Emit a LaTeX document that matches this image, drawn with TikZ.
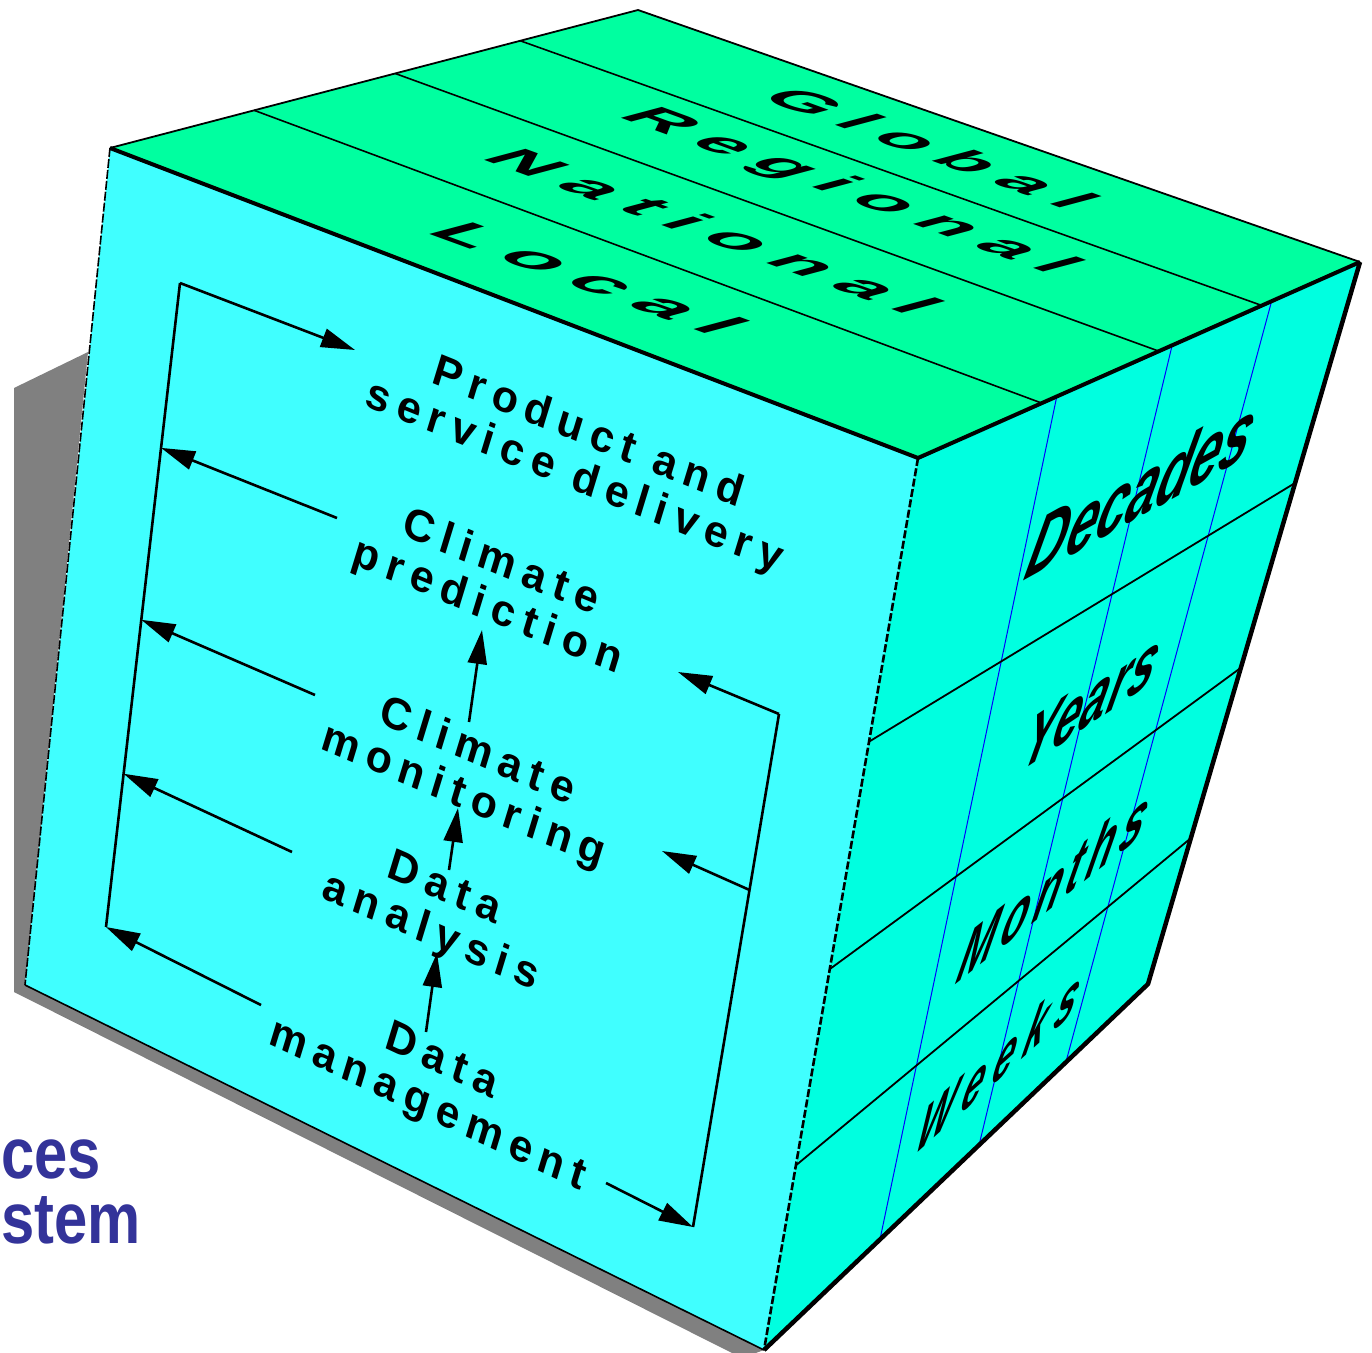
\documentclass[tikz,border=0pt]{standalone}
\usepackage{fontspec}
\setmainfont{Liberation Sans}
\newfontfamily\ffront{Liberation Sans}[LetterSpace=19]
\newfontfamily\ftop{Liberation Sans}[LetterSpace=25]
\newfontfamily\fsA{Liberation Sans}[LetterSpace=0]
\newfontfamily\fsB{Liberation Sans}[LetterSpace=2]
\newfontfamily\fsC{Liberation Sans}[LetterSpace=14]
\newfontfamily\fsD{Liberation Sans}[LetterSpace=24]
\usetikzlibrary{arrows.meta,calc}
\definecolor{topc}{RGB}{0,255,160}
\definecolor{frontc}{RGB}{64,255,255}
\definecolor{rightc}{RGB}{0,255,224}
\definecolor{shadowc}{RGB}{128,128,128}
\definecolor{titlec}{RGB}{51,51,153}
\tikzset{
  frontlbl/.style={font=\ffront\bfseries\fontsize{44}{46}\selectfont, align=center, inner sep=0pt, transform shape},
  toplbl/.style={font=\ftop\bfseries\fontsize{#1}{#1}\selectfont, inner sep=0pt, transform shape},
  sidelbl/.style={font=\bfseries\itshape\fontsize{#1}{#1}\selectfont, inner sep=0pt, transform shape},
  titlelbl/.style={anchor=base west, font=\bfseries\fontsize{72}{72}\selectfont, text=titlec, inner sep=0pt, xscale=0.83, transform shape},
  arr/.style={line width=2.6pt, -{Triangle[length=34pt,width=19pt]}},
  loopln/.style={line width=2.6pt},
  bandln/.style={line width=1.6pt},
  blueln/.style={line width=1pt, blue},
  divln/.style={line width=1.8pt},
}
\begin{document}
\begin{tikzpicture}[x=1pt,y=-1pt]
\useasboundingbox (0,0) rectangle (1372,1352);
\clip (0,0) rectangle (1372,1352);
% cube corners
\coordinate (A) at (110,148);
\coordinate (B) at (638,10);
\coordinate (C) at (1360,262);
\coordinate (D) at (918,458);
\coordinate (E) at (764,1350);
\coordinate (F) at (25,985);
\coordinate (G) at (1148,984);
% shadow
\coordinate (S1) at (88,352);
\coordinate (S2) at (14,388);
\coordinate (S3) at (14,992);
\coordinate (S4) at (742,1358);
\fill[shadowc] (S1)--(S2)--(S3)--(S4)--(E)--(F)--cycle;
% faces
\fill[topc] (A)--(B)--(C)--(D)--cycle;
\fill[frontc] (A)--(D)--(E)--(F)--cycle;
\fill[rightc] (D)--(C)--(G)--(E)--cycle;
% top bands
\draw[bandln] ($(A)!0.273!(B)$) -- ($(D)!0.28!(C)$);
\draw[bandln] ($(A)!0.54!(B)$) -- ($(D)!0.545!(C)$);
\draw[bandln] ($(A)!0.777!(B)$) -- ($(D)!0.778!(C)$);
% right face grid
\draw[blueln] ($(D)!0.314!(C)$) -- ($(E)!0.302!(G)$);
\draw[blueln] ($(D)!0.575!(C)$) -- ($(E)!0.56!(G)$);
\draw[blueln] ($(D)!0.80!(C)$) -- ($(E)!0.786!(G)$);
\draw[divln] ($(D)!0.318!(E)$) -- ($(C)!0.306!(G)$);
\draw[divln] ($(D)!0.573!(E)$) -- ($(C)!0.562!(G)$);
\draw[divln] ($(D)!0.793!(E)$) -- ($(C)!0.798!(G)$);
% edges
\draw[line width=1.8pt] (A)--(B)--(C);
\draw[line width=4pt, line join=round] (A)--(D)--(C);
\draw[line width=4.5pt, line join=round] (C)--(G)--(E);
\draw[line width=1.6pt] (F)--(E);
\draw[line width=1.6pt, dash pattern=on 9pt off 2pt] (A)--(F);
\draw[line width=2.6pt, dash pattern=on 8pt off 2.5pt] (D)--(E);
% top face labels
\begin{scope}[shift={(932,148)}]
\node[toplbl=75, cm={0.940,-0.342,0.773,0.206,(0,0)}] (global) at (0,0) {Global};
\end{scope}
\begin{scope}[shift={(848,191)}]
\node[toplbl=77, cm={0.940,-0.342,0.773,0.206,(0,0)}] (regional) at (0,0) {Regional};
\end{scope}
\begin{scope}[shift={(715,231)}]
\node[toplbl=80, cm={0.940,-0.342,0.753,0.201,(0,0)}] (national) at (0,0) {National};
\end{scope}
\begin{scope}[shift={(590,278)}]
\node[toplbl=84, cm={0.940,-0.342,0.753,0.201,(0,0)}] (local) at (0,0) {Local};
\end{scope}
% right face labels
\begin{scope}[shift={(1143,488)}]
\node[sidelbl=62, cm={0.875,0.485,0.388,1.449,(0,0)}] (decades) at (0,0) {\fsA Decades};
\end{scope}
\begin{scope}[shift={(1092,701)}]
\node[sidelbl=58, cm={0.829,0.559,0.376,1.401,(0,0)}] (years) at (0,0) {\fsB Years};
\end{scope}
\begin{scope}[shift={(1055,884)}]
\node[sidelbl=56, cm={0.783,0.623,0.363,1.352,(0,0)}] (months) at (0,0) {\fsC Months};
\end{scope}
\begin{scope}[shift={(1000,1060)}]
\node[sidelbl=52, cm={0.743,0.669,0.363,1.352,(0,0)}] (weeks) at (0,0) {\fsD Weeks};
\end{scope}
% front labels
\begin{scope}[shift={(581,456)}]
\node[frontlbl, cm={0.927,-0.375,0.292,0.956,(0,0)}] (psd) at (0,0) {Product and\\service delivery};
\end{scope}
\begin{scope}[shift={(494,586)}]
\node[frontlbl, cm={0.924,-0.383,0.292,0.956,(0,0)}] (cpred) at (0,0) {Climate\\prediction};
\end{scope}
\begin{scope}[shift={(470,775)}]
\node[frontlbl, cm={0.921,-0.391,0.292,0.956,(0,0)}] (cmon) at (0,0) {Climate\\monitoring};
\end{scope}
\begin{scope}[shift={(437,912)}]
\node[frontlbl, cm={0.917,-0.399,0.292,0.956,(0,0)}] (dana) at (0,0) {Data\\analysis};
\end{scope}
\begin{scope}[shift={(434,1085)}]
\node[frontlbl, cm={0.906,-0.423,0.292,0.956,(0,0)}] (dman) at (0,0) {Data\\management};
\end{scope}
% feedback loop
\coordinate (L1) at (180,283);
\coordinate (L2) at (106,927);
\coordinate (T1) at (355,350);
\coordinate (R1) at (779,714);
\coordinate (R2) at (693,1227);
\coordinate (Rt1) at (678,672);
\coordinate (Rt2) at (662,851);
\coordinate (Bt) at (606,1183);
\coordinate (a1) at (337,518);
\coordinate (a2) at (315,695);
\coordinate (a3) at (292,852);
\coordinate (a4) at (261,1005);
\draw[loopln] (L1) -- (L2);
\draw[loopln] (R1) -- (R2);
\draw[arr] (L1) -- (T1);
\draw[arr] (a1) -- ($(L1)!0.256!(L2)$);
\draw[arr] (a2) -- ($(L1)!0.523!(L2)$);
\draw[arr] (a3) -- ($(L1)!0.762!(L2)$);
\draw[arr] (a4) -- (L2);
\draw[arr] (R1) -- (Rt1);
\draw[arr] ($(R1)!0.343!(R2)$) -- (Rt2);
\draw[arr] (Bt) -- (R2);
% upward arrows
\coordinate (v1a) at (469,722);
\coordinate (v1b) at (482,630);
\coordinate (v2a) at (449,870);
\coordinate (v2b) at (458,808);
\coordinate (v3a) at (426,1032);
\coordinate (v3b) at (437,953);
\draw[arr] (v1a) -- (v1b);
\draw[arr] (v2a) -- (v2b);
\draw[arr] (v3a) -- (v3b);
% title fragments
\node[titlelbl] (ttl1) at (1,1178) {ces};
\node[titlelbl] (ttl2) at (1,1243) {stem};
\end{tikzpicture}
\end{document}
